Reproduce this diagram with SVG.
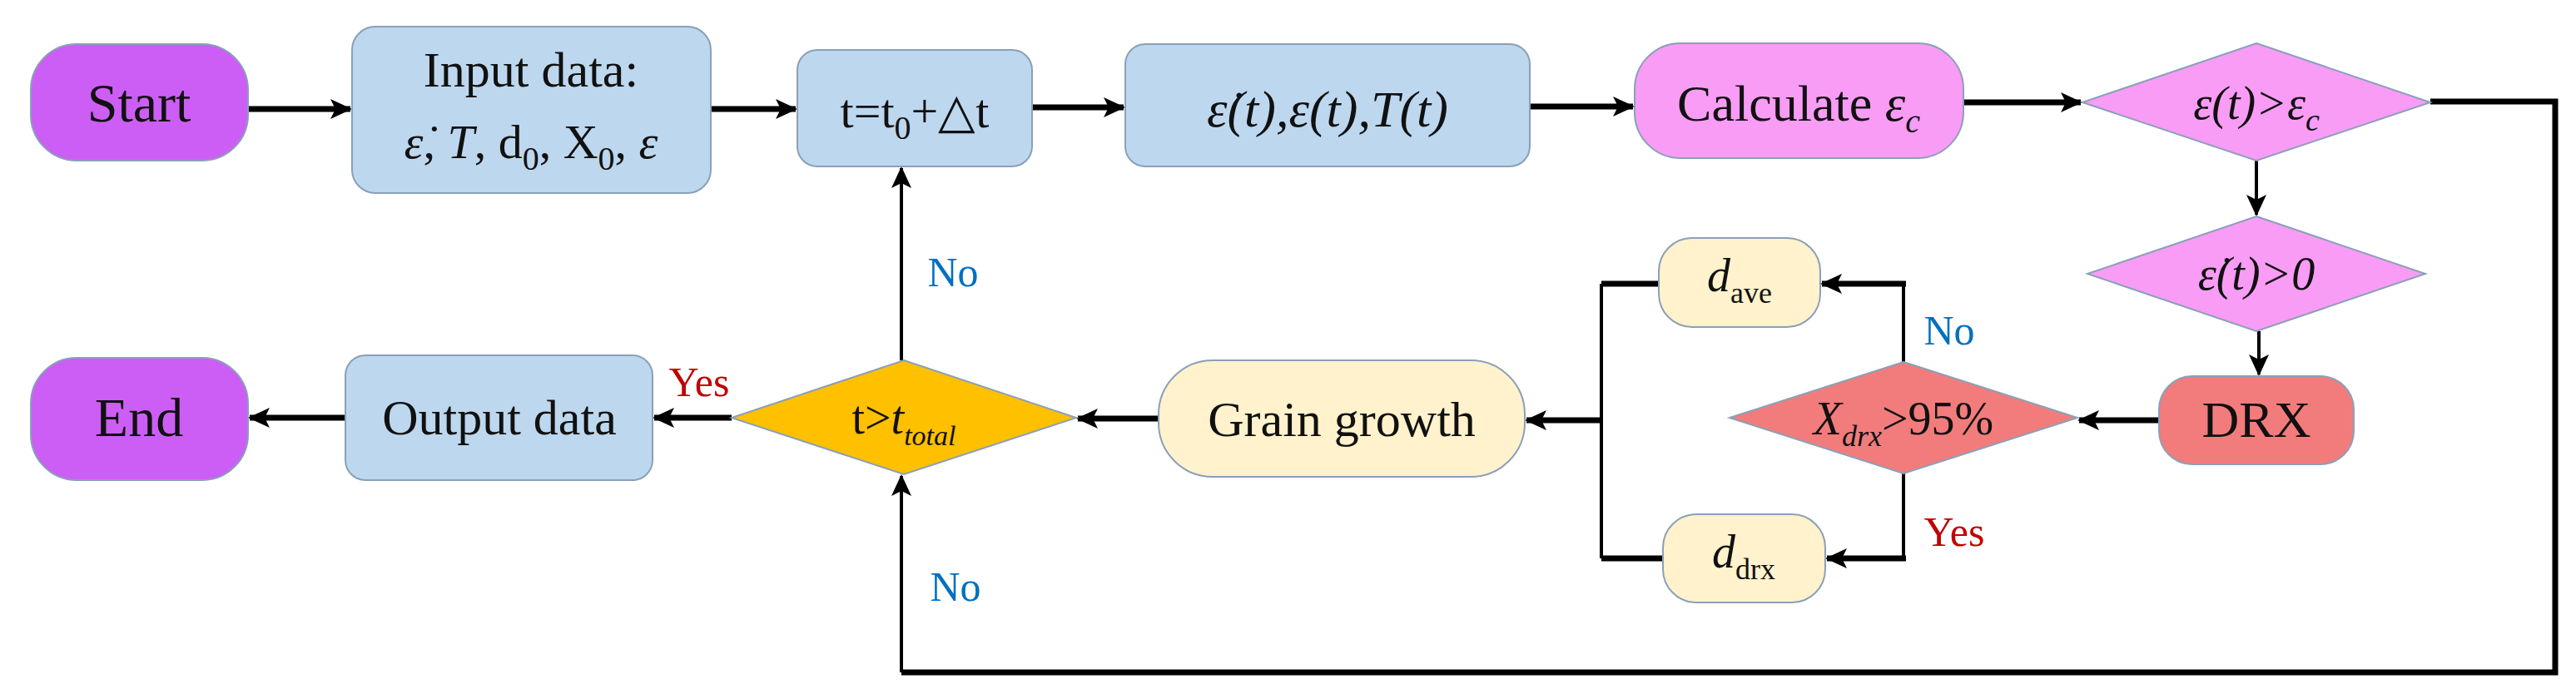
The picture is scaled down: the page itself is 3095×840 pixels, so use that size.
<svg xmlns="http://www.w3.org/2000/svg" width="3095" height="840" viewBox="0 0 3095 840">
<style>
text{font-family:"Liberation Serif","Times New Roman",serif;fill:#111;text-anchor:middle}
.n{stroke:#8aa0b8;stroke-width:2}
.blue{fill:#bdd7ee}.purple{fill:#cc5ef5}.pink{fill:#f99cf5}.salmon{fill:#f27c7c}.cream{fill:#fff2cc}.orange{fill:#ffc000}
.c{fill:none;stroke:#000;stroke-width:7}
.t{fill:none;stroke:#000;stroke-width:4}
.lb{fill:#0070c0;font-size:50px}.lr{fill:#c00000;font-size:50px}
.i{font-style:italic}
</style>
<defs>
<marker id="a" markerUnits="userSpaceOnUse" markerWidth="26" markerHeight="24" refX="24" refY="12" orient="auto">
<path d="M0,0 L26,12 L0,24 L6,12 z" fill="#000"/>
</marker>
</defs>
<g id="connectors">
<line class="c" x1="298" y1="131" x2="421" y2="131" marker-end="url(#a)"/>
<line class="c" x1="854" y1="131" x2="956" y2="131" marker-end="url(#a)"/>
<line class="c" x1="1240" y1="129" x2="1350" y2="129" marker-end="url(#a)"/>
<line class="c" x1="1838" y1="128" x2="1962" y2="128" marker-end="url(#a)"/>
<line class="c" x1="2359" y1="123" x2="2500" y2="123" marker-end="url(#a)"/>
<line class="t" x1="2711" y1="193" x2="2711" y2="258" marker-end="url(#a)"/>
<line class="t" x1="2714" y1="398" x2="2714" y2="450" marker-end="url(#a)"/>
<line class="c" x1="2594" y1="505" x2="2498" y2="505" marker-end="url(#a)"/>
<polyline class="t" points="2287,435 2287,341 2240,341"/>
<line class="c" x1="2290" y1="341" x2="2189" y2="341" marker-end="url(#a)"/>
<polyline class="t" points="2287,569 2287,671 2240,671"/>
<line class="c" x1="2290" y1="671" x2="2195" y2="671" marker-end="url(#a)"/>
<line class="c" x1="1993" y1="341" x2="1924" y2="341"/>
<line class="c" x1="1998" y1="671" x2="1924" y2="671"/>
<line class="t" x1="1924" y1="341" x2="1924" y2="671"/>
<line class="c" x1="1924" y1="505" x2="1834" y2="505" marker-end="url(#a)"/>
<line class="c" x1="1392" y1="503" x2="1295" y2="503" marker-end="url(#a)"/>
<line class="c" x1="879" y1="502" x2="786" y2="502" marker-end="url(#a)"/>
<line class="c" x1="415" y1="502" x2="300" y2="502" marker-end="url(#a)"/>
<line class="t" x1="1083" y1="433" x2="1083" y2="202" marker-end="url(#a)"/>
<polyline class="c" points="2920,122 3070,122 3070,808 1083,808"/>
<line class="t" x1="1083" y1="808" x2="1083" y2="572" marker-end="url(#a)"/>
<text class="lb" x="1145" y="344">No</text>
<text class="lb" x="1148" y="722">No</text>
<text class="lr" x="840" y="476">Yes</text>
<text class="lb" x="2342" y="414">No</text>
<text class="lr" x="2348" y="656">Yes</text>
</g>
<g id="start"><rect class="n purple" x="37" y="53" width="261" height="140" rx="55"/><text x="167" y="146" font-size="66">Start</text></g>
<g id="input"><rect class="n blue" x="423" y="32" width="431" height="200" rx="28"/><text x="638" y="104" font-size="60">Input data:</text><text x="638" y="190" font-size="58"><tspan class="i">ε̇</tspan>, <tspan class="i">T</tspan>, d<tspan font-size="40" dy="14">0</tspan><tspan dy="-14">, X</tspan><tspan font-size="40" dy="14">0</tspan><tspan dy="-14">, </tspan><tspan class="i">ε</tspan></text></g>
<g id="tstep"><rect class="n blue" x="958" y="60" width="282" height="140" rx="24"/><text x="1099" y="153" font-size="58">t=t<tspan font-size="40" dy="14">0</tspan><tspan dy="-14">+△t</tspan></text></g>
<g id="strain"><rect class="n blue" x="1352" y="53" width="486" height="147" rx="24"/><text x="1595" y="152" font-size="62" class="i">ε̇(t),ε(t),T(t)</text></g>
<g id="calc"><rect class="n pink" x="1964" y="52" width="395" height="138" rx="55"/><text x="2161" y="145" font-size="62">Calculate <tspan class="i">ε</tspan><tspan class="i" font-size="40" dy="14">c</tspan></text></g>
<g id="d1"><polygon class="n pink" points="2711,52 2920,123 2711,193 2502,123"/><text x="2711" y="143" font-size="56" class="i">ε(t)&gt;ε<tspan font-size="38" dy="14">c</tspan></text></g>
<g id="d2"><polygon class="n pink" points="2711,260 2914,329 2711,398 2508,329"/><text x="2711" y="348" font-size="56" class="i">ε̇(t)&gt;0</text></g>
<g id="drx"><rect class="n salmon" x="2594" y="452" width="234" height="106" rx="40"/><text x="2711" y="525" font-size="62">DRX</text></g>
<g id="xdrx"><polygon class="n salmon" points="2287,435 2496,502 2287,569 2078,502"/><text x="2287" y="522" font-size="56"><tspan class="i">X</tspan><tspan class="i" font-size="36" dy="14">drx</tspan><tspan dy="-14">&gt;95%</tspan></text></g>
<g id="dave"><rect class="n cream" x="1993" y="286" width="194" height="107" rx="40"/><text x="2090" y="350" font-size="56"><tspan class="i">d</tspan><tspan font-size="36" dy="14">ave</tspan></text></g>
<g id="ddrx"><rect class="n cream" x="1998" y="618" width="195" height="106" rx="40"/><text x="2095" y="682" font-size="56"><tspan class="i">d</tspan><tspan font-size="36" dy="14">drx</tspan></text></g>
<g id="grain"><rect class="n cream" x="1392" y="433" width="440" height="140" rx="65"/><text x="1612" y="524" font-size="60">Grain growth</text></g>
<g id="ttotal"><polygon class="n orange" points="1086,433 1293,502 1086,570 879,502"/><text x="1086" y="521" font-size="56">t&gt;<tspan class="i">t</tspan><tspan class="i" font-size="34" dy="14">total</tspan></text></g>
<g id="output"><rect class="n blue" x="415" y="427" width="369" height="150" rx="24"/><text x="600" y="522" font-size="60">Output data</text></g>
<g id="end"><rect class="n purple" x="37" y="430" width="261" height="147" rx="55"/><text x="167" y="524" font-size="66">End</text></g>
</svg>
